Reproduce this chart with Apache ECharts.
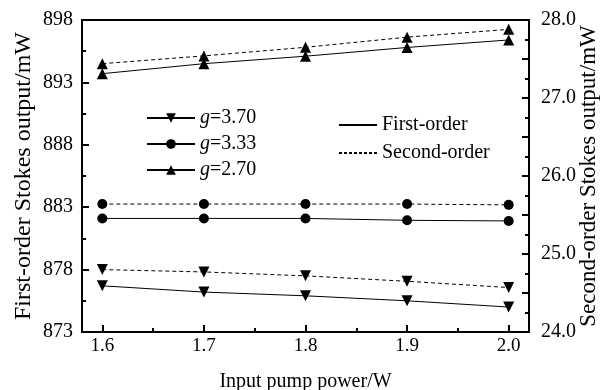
<!DOCTYPE html>
<html>
<head>
<meta charset="utf-8">
<script src="https://cdn.jsdelivr.net/npm/echarts@6/dist/echarts.min.js"></script>
<style>
  html, body { margin: 0; padding: 0; background: #fff; }
  #chart { width: 600px; height: 390px; }
</style>
</head>
<body>
<div id="chart"></div>
<script>
// input pump power (W)
const power = [1.6, 1.7, 1.8, 1.9, 2.0];
const powerTicks = [1.6, 1.7, 1.8, 1.9, 2.0];
const powerMinorTicks = [1.65, 1.75, 1.85, 1.95];

// first-order Stokes output, mW (left axis)
const first370 = [876.7, 876.2, 875.9, 875.5, 875.0];
const first333 = [882.1, 882.1, 882.1, 881.95, 881.9];
const first270 = [893.7, 894.5, 895.1, 895.8, 896.4];

// second-order Stokes output, mW (right axis)
const second370 = [24.80, 24.77, 24.72, 24.65, 24.57];
const second333 = [25.64, 25.64, 25.64, 25.64, 25.63];
const second270 = [27.44, 27.54, 27.65, 27.78, 27.88];

const gNames = ['g=3.70', 'g=3.33', 'g=2.70'];
const orderNames = ['First-order', 'Second-order'];

const FONT = "'Liberation Serif', 'Times New Roman', serif";

const pairs = (ys) => power.map((x, i) => [x, ys[i]]);

const marks = [
  { name: gNames[0], symbol: 'triangle', rotate: 180, size: 11, first: first370, second: second370 },
  { name: gNames[1], symbol: 'circle', rotate: 0, size: 10, first: first333, second: second333 },
  { name: gNames[2], symbol: 'triangle', rotate: 0, size: 11, first: first270, second: second270 }
];

let series = [];
marks.forEach(m => {
  series.push({
    name: m.name,
    type: 'line',
    xAxisIndex: 0,
    yAxisIndex: 0,
    symbol: m.symbol,
    symbolRotate: m.rotate,
    symbolSize: m.size,
    itemStyle: { color: '#000' },
    lineStyle: { color: '#000', width: 1, type: 'solid' },
    data: pairs(m.first)
  });
  series.push({
    name: m.name + ' second',
    type: 'line',
    xAxisIndex: 0,
    yAxisIndex: 1,
    symbol: m.symbol,
    symbolRotate: m.rotate,
    symbolSize: m.size,
    itemStyle: { color: '#000' },
    lineStyle: { color: '#000', width: 1, type: [4, 3] },
    data: pairs(m.second)
  });
});
// legend-only entries for the line styles
series.push({
  name: orderNames[0], type: 'line', symbol: 'none', data: [],
  lineStyle: { color: '#000', width: 1, type: 'solid' }, itemStyle: { color: '#000', opacity: 0 }
});
series.push({
  name: orderNames[1], type: 'line', symbol: 'none', data: [],
  lineStyle: { color: '#000', width: 1, type: [3, 2] }, itemStyle: { color: '#000', opacity: 0 }
});

const axisLine = { show: true, lineStyle: { color: '#000', width: 2 } };

const chart = echarts.init(document.getElementById('chart'));
chart.setOption({
  backgroundColor: '#fff',
  animation: false,
  textStyle: { fontFamily: FONT, color: '#000' },
  grid: {
    left: 82, right: 71, top: 20, bottom: 58,
    outerBoundsMode: 'none',
    containLabel: false,
    show: true, borderColor: '#000', borderWidth: 2
  },
  legend: [
    {
      data: gNames,
      orient: 'vertical',
      left: 141, top: 103,
      itemWidth: 48, itemHeight: 12, itemGap: 6,
      symbolRotate: 'inherit',
      formatter: (name) => '{i|g}{n|' + name.slice(1) + '}',
      textStyle: {
        fontFamily: FONT, fontSize: 20, color: '#000', lineHeight: 20,
        rich: {
          i: { fontFamily: FONT, fontSize: 20, fontStyle: 'italic', color: '#000' },
          n: { fontFamily: FONT, fontSize: 20, color: '#000' }
        }
      }
    },
    {
      data: orderNames.map(n => ({ name: n, itemStyle: { opacity: 0 } })),
      orient: 'vertical',
      left: 333, top: 110,
      itemWidth: 38, itemHeight: 12, itemGap: 8,
      textStyle: { fontFamily: FONT, fontSize: 20, color: '#000', lineHeight: 20 }
    }
  ],
  xAxis: [
    {
      type: 'value',
      min: 1.58, max: 2.02,
      name: 'Input pump power/W',
      nameLocation: 'middle',
      nameGap: 40,
      nameMoveOverlap: false,
      nameTextStyle: { fontFamily: FONT, fontSize: 20, color: '#000' },
      axisLine: axisLine,
      axisTick: { inside: true, length: 7, customValues: powerTicks, lineStyle: { color: '#000', width: 2 } },
      axisLabel: {
        customValues: powerTicks, margin: 5,
        fontFamily: FONT, fontSize: 19, color: '#000',
        formatter: (v) => v.toFixed(1)
      },
      splitLine: { show: false }
    },
    {
      type: 'value',
      position: 'bottom',
      min: 1.58, max: 2.02,
      axisLine: { show: false },
      axisTick: { inside: true, length: 4, customValues: powerMinorTicks, lineStyle: { color: '#000', width: 2 } },
      axisLabel: { show: false },
      splitLine: { show: false }
    }
  ],
  yAxis: [
    {
      type: 'value',
      min: 873, max: 898, interval: 5,
      name: 'First-order Stokes output/mW',
      nameLocation: 'middle',
      nameGap: 46,
      nameMoveOverlap: false,
      nameTextStyle: { fontFamily: FONT, fontSize: 24, color: '#000' },
      axisLine: axisLine,
      axisTick: { inside: true, length: 7, lineStyle: { color: '#000', width: 2 } },
      minorTick: { show: true, splitNumber: 2, length: 4, lineStyle: { color: '#000', width: 2 } },
      axisLabel: { margin: 9, fontFamily: FONT, fontSize: 20, color: '#000' },
      splitLine: { show: false }
    },
    {
      type: 'value',
      position: 'right',
      min: 24, max: 28, interval: 0.5,
      name: 'Second-order Stokes output/mW',
      nameLocation: 'middle',
      nameGap: 48,
      nameMoveOverlap: false,
      nameTextStyle: { fontFamily: FONT, fontSize: 23, color: '#000' },
      axisLine: axisLine,
      axisTick: { inside: true, length: 7, lineStyle: { color: '#000', width: 2 } },
      minorTick: { show: true, splitNumber: 2, length: 4, lineStyle: { color: '#000', width: 2 } },
      axisLabel: {
        margin: 12, fontFamily: FONT, fontSize: 20, color: '#000',
        formatter: (v) => (Math.abs(v - Math.round(v)) < 1e-9 ? v.toFixed(1) : '')
      },
      splitLine: { show: false }
    }
  ],
  series: series
});
</script>
</body>
</html>
